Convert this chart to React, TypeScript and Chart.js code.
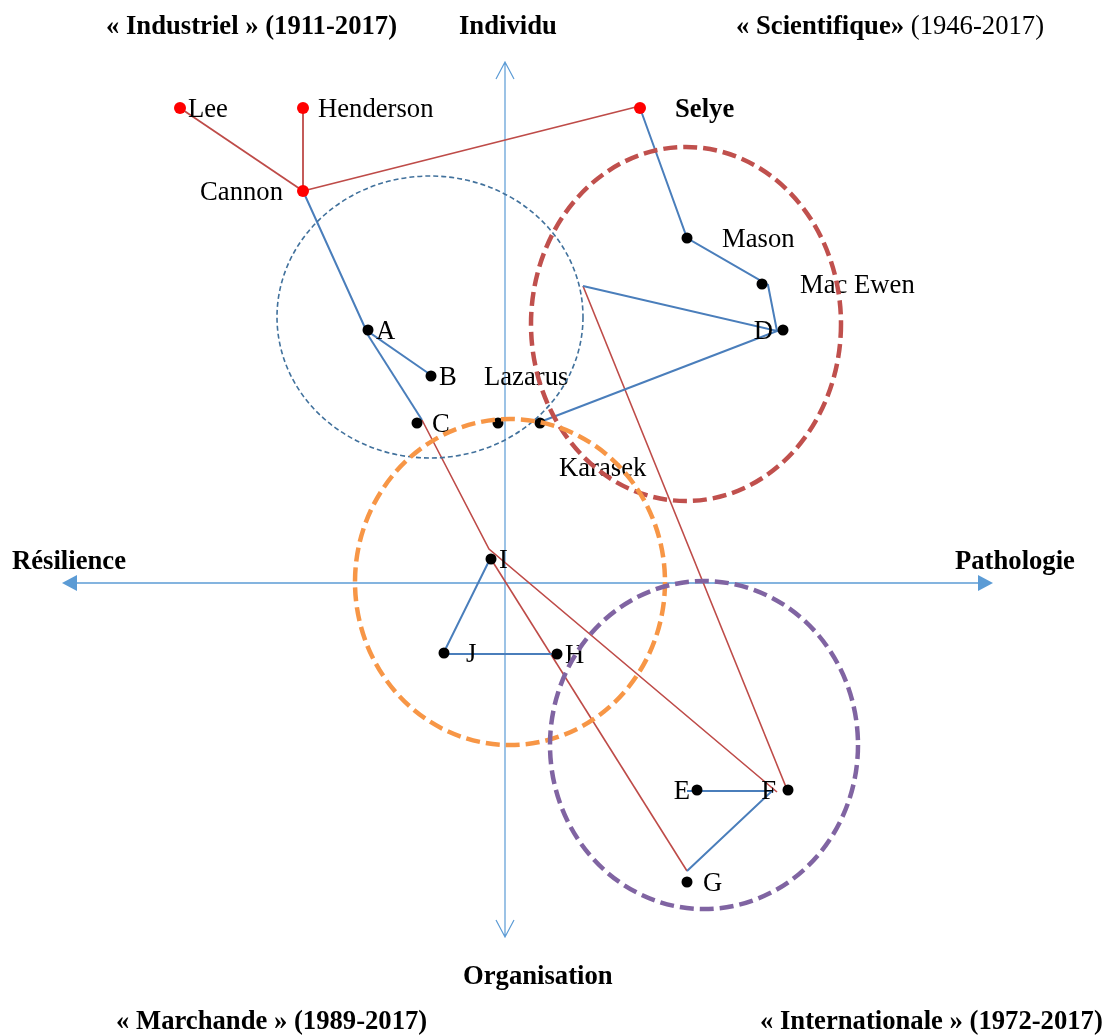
import React, { useEffect, useRef } from 'react';
import { Chart, registerables } from 'chart.js';

Chart.register(...registerables);

const W = 1106;
const H = 1036;

// Data space: origin at the crossing of the two axes, +x towards "Pathologie", +y towards "Individu"
const xRange = [-505, 601];
const yRange = [-453, 583];

// Red (historical authors) points
const redNames = ['Lee', 'Henderson', 'Cannon', 'Selye'];
const redX = [-325, -202, -202, 135];
const redY = [475, 475, 392, 475];

// Black points
const blackNames = ['Mason', 'Mac Ewen', 'D', 'A', 'B', 'C', 'Lazarus', 'Karasek', 'I', 'J', 'H', 'E', 'F', 'G'];
const blackX = [182, 257, 278, -137, -74, -88, -7, 35, -14, -61, 52, 192, 283, 182];
const blackY = [345, 299, 253, 253, 207, 160, 160, 160, 24, -70, -71, -207, -207, -299];

// Blue paths
const blueCannonX = [-202, -139, -77];
const blueCannonY = [392, 253, 210];
const blueACX = [-139, -83];
const blueACY = [251, 163];
const blueSelyeX = [135, 182, 263, 272, 78];
const blueSelyeY = [475, 345, 298, 252, 297];
const blueDKarasekX = [272, 35];
const blueDKarasekY = [252, 161];
const blueIJHX = [-16, -62, 50];
const blueIJHY = [22, -71, -71];
const blueEFGX = [182, 267, 182];
const blueEFGY = [-208, -208, -288];

// Red paths
const redLeeX = [-325, -202];
const redLeeY = [475, 392];
const redHendersonX = [-202, -202];
const redHendersonY = [475, 392];
const redCannonSelyeX = [-202, 135];
const redCannonSelyeY = [392, 477];
const redCFX = [-83, -16, 272];
const redCFY = [163, 34, -209];
const redIGX = [-14, 182];
const redIGY = [24, -288];
const redCornerFX = [78, 283];
const redCornerFY = [297, -209];

// Ellipses (centre x, centre y, radius x, radius y)
const ellipseCX = [-75, 181, 5, 199];
const ellipseCY = [266, 259, 1, -162];
const ellipseRX = [153, 155, 155, 154];
const ellipseRY = [141, 177, 163, 164];

// Axes extents
const hAxisX = [-443, 488];
const vAxisY = [521, -354];

// Titles
const titleTexts = [
  ['« Industriel » (1911-2017)'],
  ['Individu'],
  ['« Scientifique»', ' (1946-2017)'],
  ['Résilience'],
  ['Pathologie'],
  ['Organisation'],
  ['« Marchande » (1989-2017)'],
  ['« Internationale » (1972-2017)'],
];
const titleX = [-399, -46, 231, -493, 450, -42, -389, 255];
const titleY = [558, 558, 558, 23, 23, -392, -437, -437];

// Styles
const FONT = '"Liberation Serif", "Times New Roman", serif';
const FS = 26.67;
const TEXT_SHIFT = 2;
const AXIS_COLOR = '#5B9BD5';
const BLUE = '#4A7EBB';
const RED = '#BE4B48';
const ellipseStyle = [
  { color: '#41719C', width: 1.6, dash: [5, 3] },
  { color: '#C0504D', width: 4.5, dash: [14, 6] },
  { color: '#F79646', width: 4.5, dash: [14, 6] },
  { color: '#8064A2', width: 4.5, dash: [14, 6] },
];
const titleBold = [[true], [true], [true, false], [true], [true], [true], [true], [true]];

const labelStyle: Record<string, { dx: number; dy: number; align: 'left' | 'right'; bold?: boolean }> = {
  Lee: { dx: 8, dy: 0, align: 'left' },
  Henderson: { dx: 15, dy: 0, align: 'left' },
  Cannon: { dx: -20, dy: 0, align: 'right' },
  Selye: { dx: 35, dy: 0, align: 'left', bold: true },
  Mason: { dx: 35, dy: 0, align: 'left' },
  'Mac Ewen': { dx: 38, dy: 0, align: 'left' },
  D: { dx: -10, dy: 0, align: 'right' },
  A: { dx: 8, dy: 0, align: 'left' },
  B: { dx: 8, dy: 0, align: 'left' },
  C: { dx: 15, dy: 0, align: 'left' },
  Lazarus: { dx: -14, dy: -47, align: 'left' },
  Karasek: { dx: 19, dy: 44, align: 'left' },
  I: { dx: 8, dy: 0, align: 'left' },
  J: { dx: 22, dy: 0, align: 'left' },
  H: { dx: 8, dy: 0, align: 'left' },
  E: { dx: -7, dy: 0, align: 'right' },
  F: { dx: -12, dy: 0, align: 'right' },
  G: { dx: 16, dy: 0, align: 'left' },
};

const toPts = (xs: number[], ys: number[]) => xs.map((x, i) => ({ x, y: ys[i] }));

const lineDs = (xs: number[], ys: number[], color: string, width: number) => ({
  data: toPts(xs, ys),
  showLine: true,
  borderColor: color,
  borderWidth: width,
  pointRadius: 0,
  pointHoverRadius: 0,
  fill: false,
  tension: 0,
});

const overlayPlugin = {
  id: 'overlay',
  beforeDatasetsDraw(chart: any) {
    const ctx = chart.ctx;
    const sx = chart.scales.x;
    const sy = chart.scales.y;
    const ox = sx.getPixelForValue(0);
    const oy = sy.getPixelForValue(0);
    ctx.save();
    ctx.strokeStyle = AXIS_COLOR;
    ctx.fillStyle = AXIS_COLOR;
    // horizontal axis with filled arrowheads
    const xl = sx.getPixelForValue(hAxisX[0]);
    const xr = sx.getPixelForValue(hAxisX[1]);
    ctx.lineWidth = 1.6;
    ctx.beginPath();
    ctx.moveTo(xl + 10, oy);
    ctx.lineTo(xr - 10, oy);
    ctx.stroke();
    ctx.beginPath();
    ctx.moveTo(xl, oy);
    ctx.lineTo(xl + 15, oy - 8);
    ctx.lineTo(xl + 15, oy + 8);
    ctx.closePath();
    ctx.fill();
    ctx.beginPath();
    ctx.moveTo(xr, oy);
    ctx.lineTo(xr - 15, oy - 8);
    ctx.lineTo(xr - 15, oy + 8);
    ctx.closePath();
    ctx.fill();
    // vertical axis with open arrowheads
    const yt = sy.getPixelForValue(vAxisY[0]);
    const yb = sy.getPixelForValue(vAxisY[1]);
    ctx.lineWidth = 1.2;
    ctx.beginPath();
    ctx.moveTo(ox, yt);
    ctx.lineTo(ox, yb);
    ctx.moveTo(ox - 9, yt + 17);
    ctx.lineTo(ox, yt);
    ctx.lineTo(ox + 9, yt + 17);
    ctx.moveTo(ox - 9, yb - 17);
    ctx.lineTo(ox, yb);
    ctx.lineTo(ox + 9, yb - 17);
    ctx.stroke();
    ctx.restore();
  },
  afterDatasetsDraw(chart: any) {
    const ctx = chart.ctx;
    const sx = chart.scales.x;
    const sy = chart.scales.y;
    ctx.save();
    ctx.fillStyle = '#000';
    ctx.textBaseline = 'middle';
    // point labels
    const allNames = [...redNames, ...blackNames];
    const allX = [...redX, ...blackX];
    const allY = [...redY, ...blackY];
    allNames.forEach((name, i) => {
      const st = labelStyle[name];
      if (!st) return;
      ctx.font = `${st.bold ? 'bold ' : ''}${FS}px ${FONT}`;
      ctx.textAlign = st.align;
      ctx.fillText(
        name,
        sx.getPixelForValue(allX[i]) + st.dx,
        sy.getPixelForValue(allY[i]) + st.dy + TEXT_SHIFT
      );
    });
    // titles
    ctx.textAlign = 'left';
    titleTexts.forEach((parts, i) => {
      let px = sx.getPixelForValue(titleX[i]);
      const py = sy.getPixelForValue(titleY[i]) + TEXT_SHIFT;
      parts.forEach((t, j) => {
        ctx.font = `${titleBold[i][j] ? 'bold ' : ''}${FS}px ${FONT}`;
        ctx.fillText(t, px, py);
        px += ctx.measureText(t).width;
      });
    });
    // ellipses
    ellipseCX.forEach((cx, i) => {
      const pcx = sx.getPixelForValue(cx);
      const pcy = sy.getPixelForValue(ellipseCY[i]);
      const prx = Math.abs(sx.getPixelForValue(cx + ellipseRX[i]) - pcx);
      const pry = Math.abs(sy.getPixelForValue(ellipseCY[i] + ellipseRY[i]) - pcy);
      const st = ellipseStyle[i];
      ctx.strokeStyle = st.color;
      ctx.lineWidth = st.width;
      ctx.setLineDash(st.dash);
      ctx.beginPath();
      ctx.ellipse(pcx, pcy, prx, pry, 0, 0, Math.PI * 2);
      ctx.stroke();
    });
    ctx.restore();
  },
};

export default function App() {
  const ref = useRef<HTMLCanvasElement | null>(null);
  useEffect(() => {
    if (!ref.current) return;
    const chart = new Chart(ref.current, {
      type: 'scatter',
      data: {
        datasets: [
          {
            data: toPts(redX, redY),
            backgroundColor: '#FF0000',
            borderColor: '#FF0000',
            pointRadius: 6,
            pointHoverRadius: 6,
            borderWidth: 0,
          },
          {
            data: toPts(blackX, blackY),
            backgroundColor: '#000000',
            borderColor: '#000000',
            pointRadius: 5.5,
            pointHoverRadius: 5.5,
            borderWidth: 0,
          },
          lineDs(blueCannonX, blueCannonY, BLUE, 2),
          lineDs(blueACX, blueACY, BLUE, 2),
          lineDs(blueSelyeX, blueSelyeY, BLUE, 2),
          lineDs(blueDKarasekX, blueDKarasekY, BLUE, 2),
          lineDs(blueIJHX, blueIJHY, BLUE, 2),
          lineDs(blueEFGX, blueEFGY, BLUE, 2),
          lineDs(redLeeX, redLeeY, RED, 1.8),
          lineDs(redHendersonX, redHendersonY, RED, 1.8),
          lineDs(redCannonSelyeX, redCannonSelyeY, RED, 1.8),
          lineDs(redCFX, redCFY, RED, 1.6),
          lineDs(redIGX, redIGY, RED, 1.6),
          lineDs(redCornerFX, redCornerFY, RED, 1.6),
        ] as any,
      },
      options: {
        responsive: true,
        maintainAspectRatio: false,
        animation: false,
        events: [],
        layout: { padding: 0, autoPadding: false },
        scales: {
          x: { type: 'linear', min: xRange[0], max: xRange[1], display: false },
          y: { type: 'linear', min: yRange[0], max: yRange[1], display: false },
        },
        plugins: { legend: { display: false }, tooltip: { enabled: false } },
      },
      plugins: [overlayPlugin],
    });
    return () => chart.destroy();
  }, []);
  return (
    <div style={{ position: 'fixed', left: 0, top: 0, width: W, height: H, background: '#fff' }}>
      <canvas ref={ref} />
    </div>
  );
}
